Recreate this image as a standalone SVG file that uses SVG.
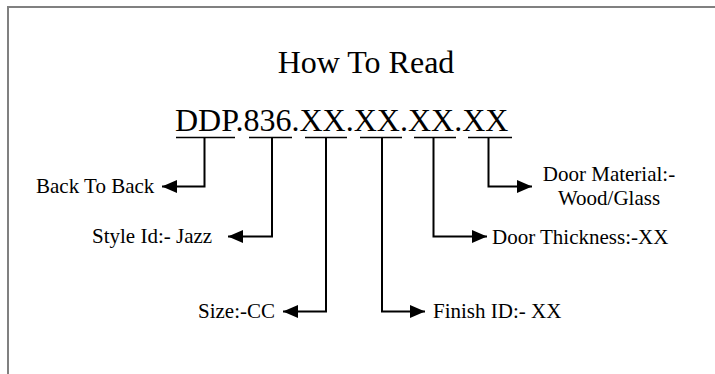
<svg xmlns="http://www.w3.org/2000/svg" width="715" height="374" viewBox="0 0 715 374">
<style>
text{font-family:"Liberation Serif","Times New Roman",serif;fill:#000}
.big{font-size:32px}
.lbl{font-size:21px}
.ul{stroke:#000;stroke-width:1.5;fill:none}
.conn{stroke:#000;stroke-width:2;fill:none;marker-end:url(#arr)}
</style>
<defs>
<marker id="arr" markerUnits="userSpaceOnUse" markerWidth="15" markerHeight="13" viewBox="0 0 15 13" refX="15" refY="6.5" orient="auto">
<path d="M0,0 L15,6.5 L0,13 z" fill="#000"/>
</marker>
</defs>
<rect width="715" height="374" fill="#fff"/>
<path d="M8,376 V7 H716" fill="none" stroke="#808080" stroke-width="2"/>
<g id="title"><text class="big" x="366" y="73" text-anchor="middle">How To Read</text></g>
<g id="code">
<text class="big" x="175" y="131">DDP.836.XX.XX.XX.XX</text>
<path class="ul" d="M176,137.5 H235 M249,137.5 H292 M305,137.5 H347 M360,137.5 H402 M414,137.5 H456 M468,137.5 H512"/>
</g>
<g id="connectors">
<path class="conn" d="M204.5,137 V186.5 H162"/>
<path class="conn" d="M272,137 V236.5 H228"/>
<path class="conn" d="M326,137 V311.5 H283"/>
<path class="conn" d="M382,137 V311.5 H425"/>
<path class="conn" d="M433.5,137 V236.5 H487"/>
<path class="conn" d="M488.5,137 V186.5 H532"/>
</g>
<g id="back-to-back"><text class="lbl" x="36" y="193">Back To Back</text></g>
<g id="style-id"><text class="lbl" x="92" y="243">Style Id:- Jazz</text></g>
<g id="size"><text class="lbl" x="198" y="318">Size:-CC</text></g>
<g id="finish-id"><text class="lbl" x="433" y="318">Finish ID:- XX</text></g>
<g id="door-thickness"><text class="lbl" x="492" y="244">Door Thickness:-XX</text></g>
<g id="door-material"><text class="lbl" x="609" y="181" text-anchor="middle">Door Material:-</text><text class="lbl" x="609" y="205" text-anchor="middle">Wood/Glass</text></g>
</svg>
